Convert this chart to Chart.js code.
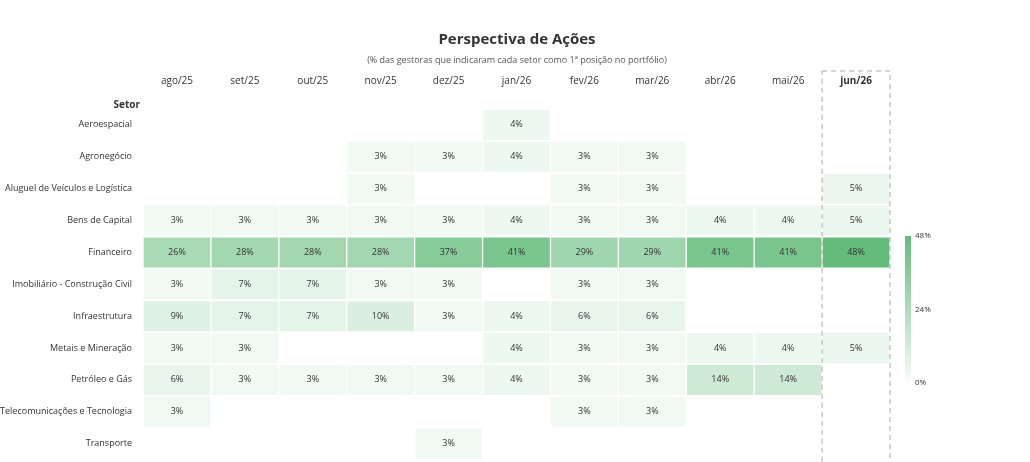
<!DOCTYPE html>
<html>
<head>
<meta charset="utf-8">
<script src="https://cdn.jsdelivr.net/npm/chart.js@4"></script>
<style>
  body { margin: 0; background: #fff; overflow: hidden; }
  #wrap { width: 1030px; height: 468px; }
</style>
</head>
<body>
<div id="wrap"><canvas id="heat"></canvas></div>
<script>
const months = ['ago/25', 'set/25', 'out/25', 'nov/25', 'dez/25', 'jan/26', 'fev/26', 'mar/26', 'abr/26', 'mai/26', 'jun/26'];
const sectors = ['Aeroespacial', 'Agronegócio', 'Aluguel de Veículos e Logística', 'Bens de Capital', 'Financeiro',
    'Imobiliário - Construção Civil', 'Infraestrutura', 'Metais e Mineração', 'Petróleo e Gás',
    'Telecomunicações e Tecnologia', 'Transporte'];

// one row per sector, one value per month (null = sem indicação)
const aeroespacial = [null, null, null, null, null, 4, null, null, null, null, null];
const agronegocio = [null, null, null, 3, 3, 4, 3, 3, null, null, null];
const aluguel = [null, null, null, 3, null, null, 3, 3, null, null, 5];
const bensCapital = [3, 3, 3, 3, 3, 4, 3, 3, 4, 4, 5];
const financeiro = [26, 28, 28, 28, 37, 41, 29, 29, 41, 41, 48];
const imobiliario = [3, 7, 7, 3, 3, null, 3, 3, null, null, null];
const infraestrutura = [9, 7, 7, 10, 3, 4, 6, 6, null, null, null];
const metais = [3, 3, null, null, null, 4, 3, 3, 4, 4, 5];
const petroleo = [6, 3, 3, 3, 3, 4, 3, 3, 14, 14, null];
const telecom = [3, null, null, null, null, null, 3, 3, null, null, null];
const transporte = [null, null, null, null, 3, null, null, null, null, null, null];
const rows = [aeroespacial, agronegocio, aluguel, bensCapital, financeiro, imobiliario,
    infraestrutura, metais, petroleo, telecom, transporte];
const scaleTicks = [0, 24, 48];
const maxVal = 48;

const low = [250, 253, 251], high = [99, 188, 122];
function colorFor(v) {
    const t = Math.max(0, Math.min(1, v / maxVal));
    const c = low.map((l, i) => Math.round(l + (high[i] - l) * t));
    return `rgb(${c[0]},${c[1]},${c[2]})`;
}

// one dataset per month, floating bars across the month's column
const datasets = months.map((m, mi) => ({
    label: m,
    data: rows.map(r => r[mi] == null ? null : [mi - 0.49, mi + 0.49]),
    values: rows.map(r => r[mi]),
    backgroundColor: ctx => {
        const v = ctx.dataset.values[ctx.dataIndex];
        return v == null ? 'transparent' : colorFor(v);
    },
    grouped: false,
    barPercentage: 1,
    categoryPercentage: 0.94
}));

const extras = {
    id: 'extras',
    afterDatasetsDraw(chart) {
        const { ctx, scales: { x, y } } = chart;
        ctx.save();
        ctx.font = '9px "Open Sans", sans-serif';
        ctx.fillStyle = '#333';
        ctx.textAlign = 'center';
        ctx.textBaseline = 'middle';
        chart.data.datasets.forEach((ds, di) => {
            chart.getDatasetMeta(di).data.forEach((el, i) => {
                const v = ds.values[i];
                if (v == null) return;
                ctx.fillText(v + '%', (el.x + el.base) / 2, el.y);
            });
        });
        // title
        ctx.fillStyle = '#333';
        ctx.font = 'bold 15px "Open Sans", sans-serif';
        ctx.fillText('Perspectiva de Ações', 517, 40);
        ctx.font = '9px "Open Sans", sans-serif';
        ctx.fillStyle = '#555';
        ctx.fillText('(% das gestoras que indicaram cada setor como 1ª posição no portfólio)', 517, 60);
        // Setor header
        ctx.font = 'bold 10px "Open Sans", sans-serif';
        ctx.fillStyle = '#333';
        ctx.textAlign = 'right';
        ctx.fillText('Setor', 140, 105);
        // dashed highlight of last month
        const last = months.length - 1;
        ctx.strokeStyle = '#aaa';
        ctx.setLineDash([5, 4]);
        ctx.lineWidth = 1;
        ctx.strokeRect(x.getPixelForValue(last - 0.5), 71, x.getPixelForValue(last + 0.5) - x.getPixelForValue(last - 0.5), 420);
        ctx.setLineDash([]);
        // color bar
        const top = 236, bot = 383, bx = 905;
        const g = ctx.createLinearGradient(0, bot, 0, top);
        g.addColorStop(0, colorFor(0));
        g.addColorStop(1, colorFor(maxVal));
        ctx.fillStyle = g;
        ctx.fillRect(bx, top, 6, bot - top);
        ctx.font = '8px "Open Sans", sans-serif';
        ctx.fillStyle = '#333';
        ctx.textAlign = 'left';
        scaleTicks.forEach(t => {
            const py = bot - (bot - top) * t / maxVal;
            ctx.fillText(t + '%', bx + 10, py);
        });
        ctx.restore();
    }
};

new Chart(document.getElementById('heat'), {
    type: 'bar',
    data: { labels: sectors, datasets },
    options: {
        indexAxis: 'y',
        responsive: true,
        maintainAspectRatio: false,
        animation: false,
        layout: { padding: { top: 72, right: 140, bottom: 0, left: 0 } },
        plugins: { legend: { display: false }, tooltip: { enabled: false } },
        scales: {
            x: {
                type: 'linear',
                position: 'top',
                min: -0.5,
                max: months.length - 0.5,
                afterFit: s => { s.height = 37; },
                afterBuildTicks: s => { s.ticks = months.map((m, i) => ({ value: i })); },
                grid: { display: false },
                border: { display: false },
                ticks: {
                    padding: 14,
                    color: '#333',
                    callback: v => months[v],
                    font: c => ({ size: 10, family: '"Open Sans", sans-serif', weight: c.index === months.length - 1 ? 'bold' : 'normal' })
                }
            },
            y: {
                afterFit: s => { s.width = 143; },
                grid: { display: false },
                border: { display: false },
                ticks: { color: '#333', font: { size: 9, family: '"Open Sans", sans-serif' } }
            }
        }
    },
    plugins: [extras]
});
</script>
</body>
</html>
